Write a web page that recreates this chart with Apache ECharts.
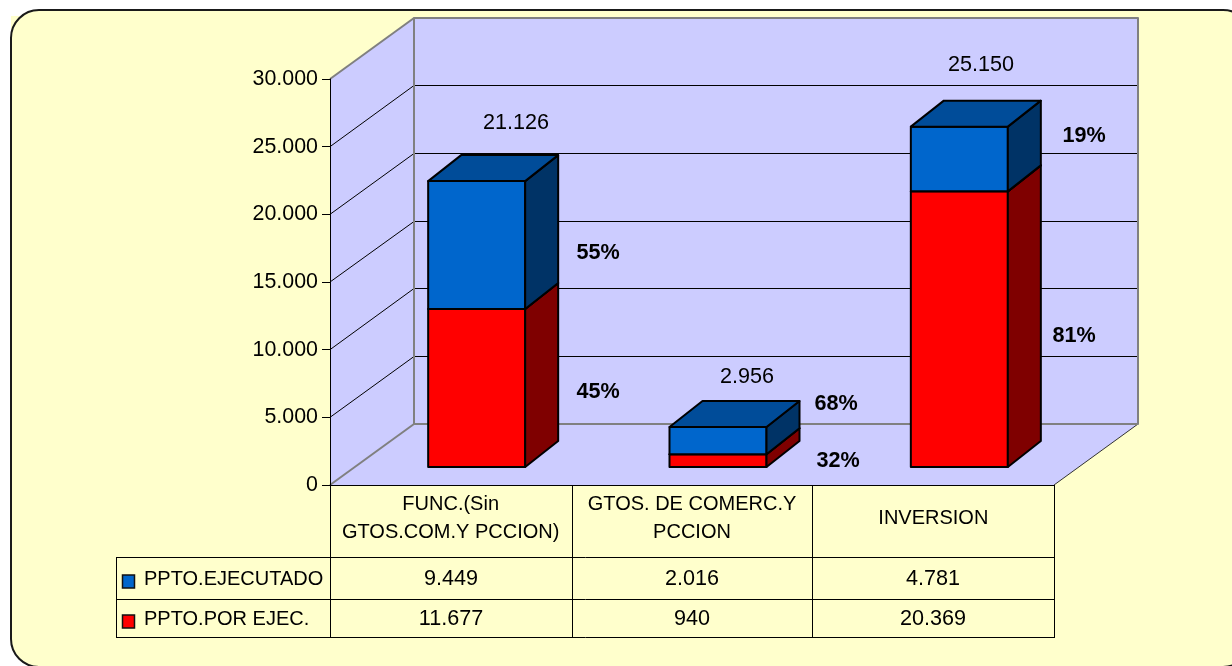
<!DOCTYPE html>
<html>
<head>
<meta charset="utf-8">
<style>html,body{margin:0;padding:0;background:#fff}#c{width:1232px;height:666px}</style>
<script src="https://cdn.jsdelivr.net/npm/echarts@6/dist/echarts.min.js"></script>
</head>
<body>
<div id="c"></div>
<script>
// ---- data ----
const categories = ['FUNC.(Sin\nGTOS.COM.Y PCCION)', 'GTOS. DE COMERC.Y\nPCCION', 'INVERSION'];
const ejecutado = [9449, 2016, 4781];
const porEjecutar = [11677, 940, 20369];
const totals = [21126, 2956, 25150];
const pctEjecutado = ['55%', '68%', '19%'];
const pctPorEjecutar = ['45%', '32%', '81%'];
const yTicks = [0, 5000, 10000, 15000, 20000, 25000, 30000];
const seriesNames = ['PPTO.EJECUTADO', 'PPTO.POR EJEC.'];

// ---- layout / style ----
const FONT = '"Liberation Sans", Arial, sans-serif';
const FS = 21.6, FS_NAME = 20;
const DEPTH = [84, -61], BAR_DEPTH = [33, -26], BAR_SHIFT = [26, -18], BAR_W = 97;
const WALL = '#CCCCFF', EDGE = '#808080';
const RED = ['#FF0000', '#7F0000', '#BF0000'], BLUE = ['#0066CC', '#003366', '#004C99'];
const totalPos = [[516, 123], [747, 377], [981, 65]];
const pctTopPos = [[598, 253], [836, 404], [1084, 136]];
const pctLowPos = [[598, 392], [838, 461], [1074, 336]];
const tableX = [330, 572, 812, 1054], tableLeft = 116;
const tableY = [485, 557, 599, 637], rowCenter = [579, 619];

const fmt = v => String(v).replace(/\B(?=(\d{3})+$)/g, '.');
const poly = (points, fill, stroke, lw) => ({
  type: 'polygon', shape: { points },
  style: { fill, stroke, lineWidth: lw, lineJoin: 'round' }
});
const seg = (a, b, stroke, lw) => ({
  type: 'line', shape: { x1: a[0], y1: a[1], x2: b[0], y2: b[1] }, style: { stroke, lineWidth: lw }
});
const add = (p, d) => [p[0] + d[0], p[1] + d[1]];

function renderWalls(params, api) {
  const cs = params.coordSys;
  const x0 = cs.x, x1 = cs.x + cs.width;
  const yMax = api.coord([0, yTicks[yTicks.length - 1]])[1], yMin = api.coord([0, 0])[1];
  const fl = [x0, yMin], fr = [x1, yMin], tl = [x0, yMax];
  const children = [
    poly([tl, add(tl, DEPTH), add(fl, DEPTH), fl], WALL, 'none', 0),
    poly([fl, fr, add(fr, DEPTH), add(fl, DEPTH)], WALL, 'none', 0),
    poly([add(tl, DEPTH), [x1 + DEPTH[0], yMax + DEPTH[1]], add(fr, DEPTH), add(fl, DEPTH)], WALL, 'none', 0)
  ];
  yTicks.slice(1, -1).forEach(t => {
    const y = api.coord([0, t])[1];
    const a = [x0, y], b = [x0 + DEPTH[0], Math.floor(y + DEPTH[1]) + 0.5];
    children.push(seg(a, b, '#000', 1));
    children.push(seg(b, [x1 + DEPTH[0], b[1]], '#000', 1));
  });
  children.push(seg(tl, add(tl, DEPTH), EDGE, 2));
  children.push(seg(fl, add(fl, DEPTH), EDGE, 2));
  children.push(seg(fr, add(fr, DEPTH), '#333', 1));
  children.push(poly([add(tl, DEPTH), [x1 + DEPTH[0], yMax + DEPTH[1]], add(fr, DEPTH), add(fl, DEPTH)], 'none', EDGE, 2));
  return { type: 'group', children };
}

function makeBlock(colors) {
  return function (params, api) {
    const i = api.value(0);
    const lo = api.coord([i, api.value(1)]), hi = api.coord([i, api.value(2)]);
    const xl = lo[0] + BAR_SHIFT[0] - BAR_W / 2, xr = xl + BAR_W;
    const yb = lo[1] + BAR_SHIFT[1], yt = hi[1] + BAR_SHIFT[1];
    const d = BAR_DEPTH;
    return {
      type: 'group',
      children: [
        poly([[xl, yb], [xr, yb], [xr, yt], [xl, yt]], colors[0], '#000', 2),
        poly([[xr, yb], add([xr, yb], d), add([xr, yt], d), [xr, yt]], colors[1], '#000', 2),
        poly([[xl, yt], [xr, yt], add([xr, yt], d), add([xl, yt], d)], colors[2], '#000', 2)
      ]
    };
  };
}

const text = (x, y, t, align, bold, size) => ({
  type: 'text', x, y, z: 100,
  style: { text: t, x: 0, y: 0, align, verticalAlign: 'middle', fill: '#000',
           font: (bold ? 'bold ' : '') + (size || FS) + 'px ' + FONT }
});
const line = (x1, y1, x2, y2) => ({
  type: 'line', z: 90, shape: { x1, y1, x2, y2 }, style: { stroke: '#000', lineWidth: 1 }
});
const px = v => Math.round(v) + 0.5;

const graphics = [
  { type: 'rect', z: -3, shape: { x: 11, y: 16, width: 14, height: 14 }, style: { fill: '#FFFFCC' } },
  { type: 'rect', z: -2, shape: { x: 11, y: 10, width: 1240, height: 657, r: 28 },
    style: { fill: '#FFFFCC', stroke: '#1a1a1a', lineWidth: 2 } }
];
tableX.forEach(x => graphics.push(line(px(x), tableY[0], px(x), px(tableY[3]))));
graphics.push(line(px(tableLeft), tableY[1], px(tableLeft), px(tableY[3])));
tableY.slice(1).forEach(y => graphics.push(line(tableLeft, px(y), tableX[3] + 1, px(y))));
[[BLUE[0], ejecutado], [RED[0], porEjecutar]].forEach(([color, vals], r) => {
  graphics.push({ type: 'rect', z: 95,
    shape: { x: 122.5, y: rowCenter[r] - 4, width: 12, height: 13 },
    style: { fill: color, stroke: '#111', lineWidth: 1.5 } });
  graphics.push(text(144, rowCenter[r], seriesNames[r], 'left', false, FS_NAME));
  vals.forEach((v, i) => graphics.push(text((tableX[i] + tableX[i + 1]) / 2, rowCenter[r], fmt(v), 'center')));
});
totals.forEach((v, i) => {
  graphics.push(text(totalPos[i][0], totalPos[i][1], fmt(v), 'center'));
  graphics.push(text(pctTopPos[i][0], pctTopPos[i][1], pctEjecutado[i], 'center', true));
  graphics.push(text(pctLowPos[i][0], pctLowPos[i][1], pctPorEjecutar[i], 'center', true));
});

const chart = echarts.init(document.getElementById('c'), null, { renderer: 'canvas' });
chart.setOption({
  animation: false,
  backgroundColor: '#fff',
  grid: { left: 330, width: 724, top: 79, height: 406, containLabel: false },
  xAxis: {
    type: 'category', data: categories, z: 5,
    axisLine: { lineStyle: { color: '#000', width: 1 } },
    axisTick: { show: false },
    axisLabel: { interval: 0, color: '#000', fontFamily: FONT, fontSize: FS_NAME, lineHeight: 28,
                 verticalAlign: 'middle', margin: 33 }
  },
  yAxis: {
    type: 'value', min: 0, max: 30000, interval: 5000, z: 5,
    axisLine: { show: true, lineStyle: { color: '#000', width: 1 } },
    axisTick: { show: true, length: 8, lineStyle: { color: '#000', width: 1 } },
    splitLine: { show: false },
    axisLabel: { color: '#000', fontFamily: FONT, fontSize: 21.4, margin: 12, formatter: fmt }
  },
  graphic: graphics,
  series: [
    { type: 'custom', name: 'walls', z: 1, silent: true, renderItem: renderWalls, data: [[0, 0]],
      encode: { x: 0, y: 1 } },
    { type: 'custom', name: seriesNames[1], z: 3, renderItem: makeBlock(RED),
      data: categories.map((c, i) => [i, 0, porEjecutar[i]]), encode: { x: 0, y: [1, 2] } },
    { type: 'custom', name: seriesNames[0], z: 4, renderItem: makeBlock(BLUE),
      data: categories.map((c, i) => [i, porEjecutar[i], porEjecutar[i] + ejecutado[i]]), encode: { x: 0, y: [1, 2] } }
  ]
});
</script>
</body>
</html>
